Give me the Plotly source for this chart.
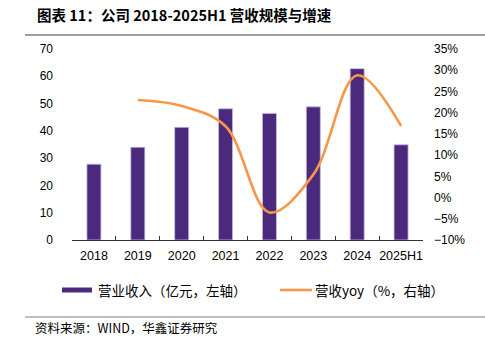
import plotly.graph_objects as go

categories = ["2018", "2019", "2020", "2021", "2022", "2023", "2024", "2025H1"]
revenue = [27.8, 34.0, 41.3, 48.1, 46.4, 48.8, 62.8, 34.9]
yoy_cats = ["2019", "2020", "2021", "2022", "2023", "2024", "2025H1"]
yoy = [23.0, 21.6, 16.8, -3.5, 5.4, 28.8, 16.9]
left_ticks = [0, 10, 20, 30, 40, 50, 60, 70]
right_ticks = [-10, -5, 0, 5, 10, 15, 20, 25, 30, 35]
right_labels = [("\u2212" if v < 0 else "") + f"{abs(v)}%" for v in right_ticks]

PURPLE = "#4B2A7E"
ORANGE = "#F79646"
W, H = 485, 337
L, R, T, B = 72, 62, 49, 97

fig = go.Figure()
fig.add_trace(go.Bar(x=categories, y=revenue, marker=dict(color=PURPLE, line=dict(color="#C9BEDD", width=0.8)),
                     width=0.32, yaxis="y", showlegend=False))
fig.add_trace(go.Scatter(x=yoy_cats, y=yoy, mode="lines", yaxis="y2",
                         line=dict(color=ORANGE, width=2.6, shape="spline", smoothing=1.0), showlegend=False))

tickfont = dict(family="Liberation Sans, Arial", size=12, color="#000")
fig.update_layout(
    width=W, height=H, margin=dict(l=L, r=R, t=T, b=B),
    paper_bgcolor="white", plot_bgcolor="white",
    xaxis=dict(type="category", categoryorder="array", categoryarray=categories,
               showline=True, linecolor="#333", linewidth=1, tickangle=0,
               ticks="inside", tickson="boundaries", ticklen=4, tickcolor="#333",
               tickfont=dict(family="Liberation Sans, Arial", size=12.5, color="#000"),
               showgrid=False, ticklabelstandoff=4),
    yaxis=dict(range=[0, 70], tickvals=left_ticks, showgrid=False, zeroline=False,
               showline=False, ticks="", tickfont=tickfont, ticklabelstandoff=18),
    yaxis2=dict(range=[-10, 35], tickvals=right_ticks, ticktext=right_labels, overlaying="y",
                side="right", showgrid=False, zeroline=False, showline=False, ticks="",
                tickfont=tickfont, ticklabelstandoff=10),
    showlegend=False,
)

cjk = "Noto Sans CJK SC"

def px_x(px):
    return (px - L) / (W - L - R)

def px_y(py):
    return (H - B - py) / (H - T - B)

# title
fig.add_annotation(text="<b>图表 11：公司 2018-2025H1 营收规模与增速</b>", xref="paper", yref="paper",
                   x=px_x(35), y=px_y(15), xanchor="left", yanchor="middle",
                   showarrow=False, font=dict(family=cjk, size=14.5, color="#000"))
# rules
fig.add_shape(type="line", xref="paper", yref="paper", x0=px_x(25), x1=px_x(485), y0=px_y(35), y1=px_y(35),
              line=dict(color="#808080", width=1.5))
fig.add_shape(type="line", xref="paper", yref="paper", x0=px_x(25), x1=px_x(485), y0=px_y(317), y1=px_y(317),
              line=dict(color="#808080", width=1.2))
# legend
fig.add_shape(type="rect", xref="paper", yref="paper", x0=px_x(62), x1=px_x(92), y0=px_y(292.5), y1=px_y(287.5),
              fillcolor=PURPLE, line=dict(width=0))
fig.add_annotation(text="营业收入（亿元，左轴）", xref="paper", yref="paper", x=px_x(96), y=px_y(290),
                   xanchor="left", yanchor="middle", showarrow=False, font=dict(family=cjk, size=13.5, color="#000"))
fig.add_shape(type="line", xref="paper", yref="paper", x0=px_x(280), x1=px_x(312), y0=px_y(290), y1=px_y(290),
              line=dict(color=ORANGE, width=2.6))
fig.add_annotation(text="营收yoy（%，右轴）", xref="paper", yref="paper", x=px_x(313), y=px_y(290),
                   xanchor="left", yanchor="middle", showarrow=False, font=dict(family=cjk, size=13.5, color="#000"))
# source
fig.add_annotation(text="资料来源：WIND，华鑫证券研究", xref="paper", yref="paper", x=px_x(34), y=px_y(327.5),
                   xanchor="left", yanchor="middle", showarrow=False, borderpad=0,
                   font=dict(family=cjk, size=12.5, color="#000"))

fig.write_html("out.html")
